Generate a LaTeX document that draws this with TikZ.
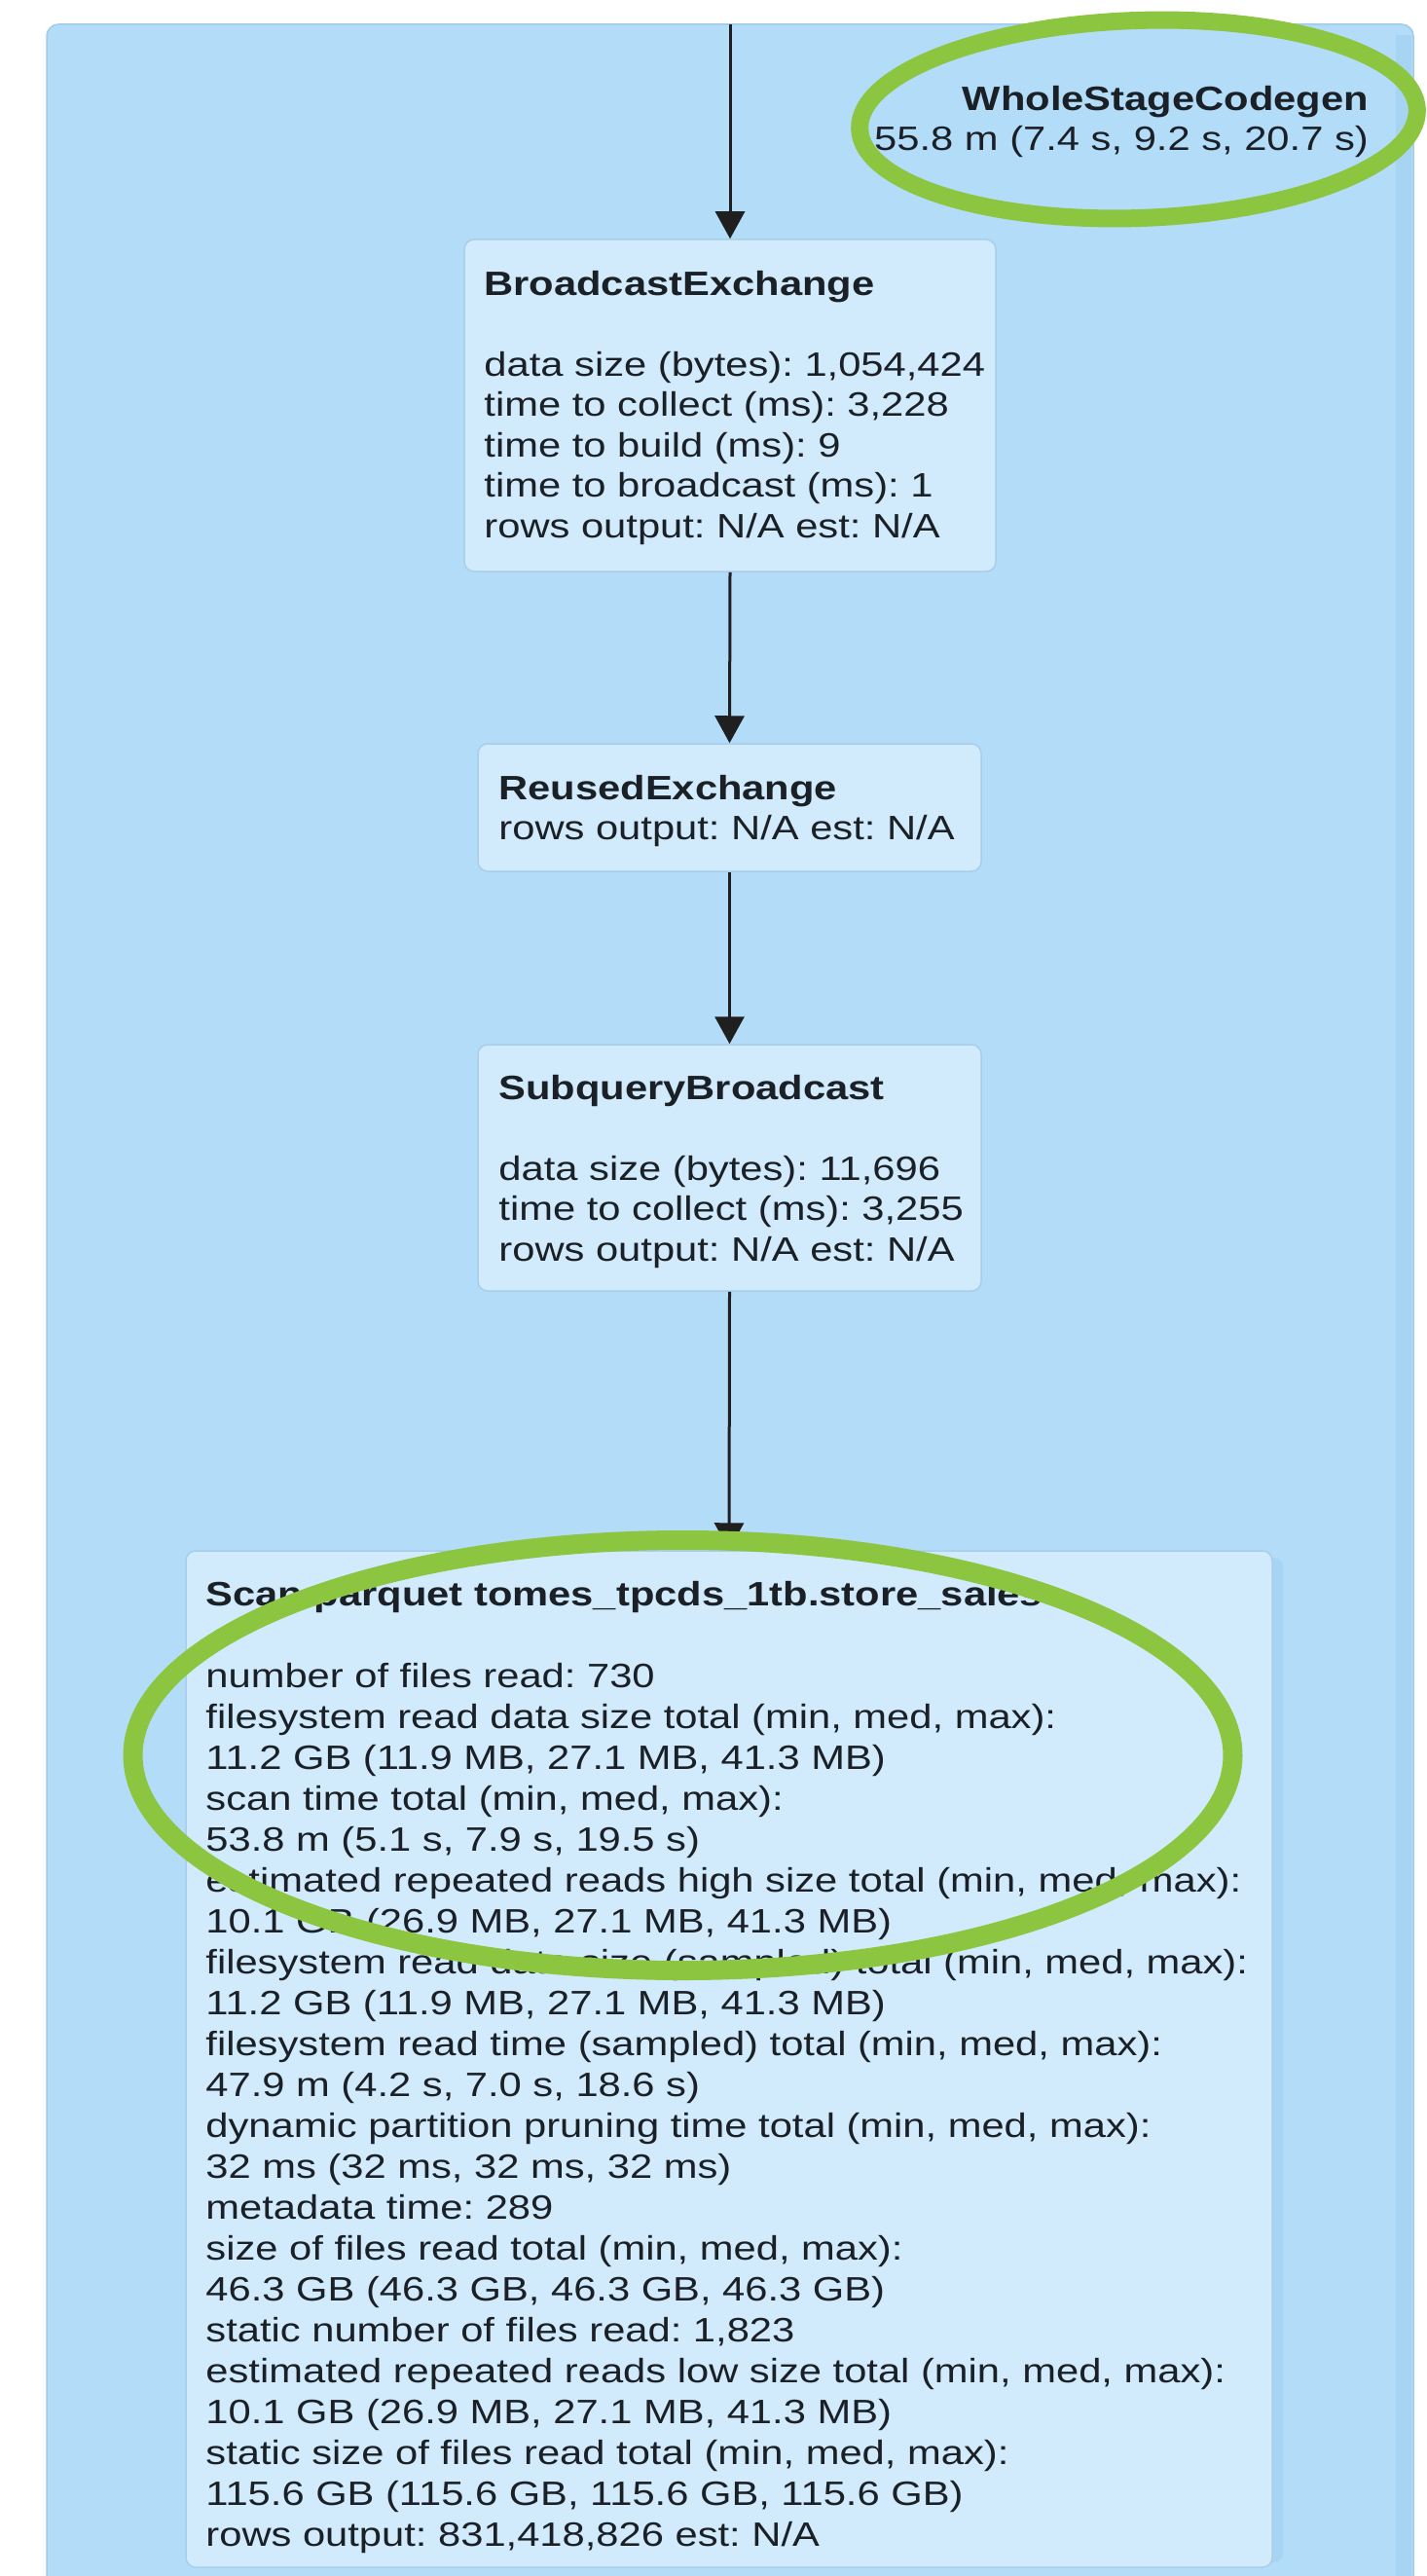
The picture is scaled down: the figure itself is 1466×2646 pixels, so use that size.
\documentclass[tikz,border=0pt]{standalone}
\usepackage{fontspec}
\setmainfont{Liberation Sans}[FakeStretch=1.2]
\frenchspacing
\usetikzlibrary{arrows.meta}

\definecolor{stagebg}{RGB}{179,220,249}
\definecolor{stageedge}{RGB}{160,204,236}
\definecolor{stagedark}{RGB}{168,212,244}
\definecolor{opfill}{RGB}{209,235,252}
\definecolor{opedge}{RGB}{168,206,233}
\definecolor{optext}{RGB}{26,32,38}
\definecolor{hilite}{RGB}{140,197,64}

\begin{document}
\begin{tikzpicture}[x=1pt,y=-1pt,
  opbox/.style={draw=opedge, line width=1.5pt, fill=opfill,
    rounded corners=10pt, inner sep=0pt, minimum width=#1},
  optxt/.style={anchor=base west, inner sep=0pt, text width=#1, align=left,
    text=optext, font=\fontsize{34.75}{41.5}\selectfont},
  flow/.style={draw=black!88, line width=3pt,
    -{Triangle[width=30pt,length=28pt]}},
  ring/.style={draw=hilite, line width=#1}
]
% page and stage cluster
\useasboundingbox (0,0) rectangle (1466,2646);
\fill[white] (0,0) rectangle (1466,2646);
\filldraw[fill=stagebg, draw=stageedge, line width=1.5pt, rounded corners=12pt]
  (48,25) rectangle (1452,2700);
\fill[stagedark] (1434,36) rectangle (1450,2646);

% operator boxes
\node[opbox=546pt, minimum height=341pt] (be) at (750,416.5) {};
\node[opbox=517pt, minimum height=131pt] (re) at (749.5,829.5) {};
\node[opbox=517pt, minimum height=253pt] (sb) at (749.5,1199.5) {};
\fill[stagedark, rounded corners=10pt] (1280,1600) rectangle (1318,2632);
\node[opbox=1116pt, minimum height=1044pt] (scan) at (749,2115) {};

% operator texts
\node[optxt=525pt] (be-t) at ([shift={(21,58)}]be.north west)
  {\textbf{BroadcastExchange}\\[41.5pt]
   data size (bytes): 1,054,424\\
   time to collect (ms): 3,228\\
   time to build (ms): 9\\
   time to broadcast (ms): 1\\
   rows output: N/A est: N/A};
\node[optxt=495pt] (re-t) at ([shift={(22,58)}]re.north west)
  {\textbf{ReusedExchange}\\
   rows output: N/A est: N/A};
\node[optxt=495pt] (sb-t) at ([shift={(22,57)}]sb.north west)
  {\textbf{SubqueryBroadcast}\\[41.5pt]
   data size (bytes): 11,696\\
   time to collect (ms): 3,255\\
   rows output: N/A est: N/A};
\node[optxt=1090pt, font=\fontsize{34.75}{42}\selectfont] (scan-t)
  at ([shift={(21,57)}]scan.north west)
  {\textbf{Scan parquet tomes\_tpcds\_1tb.store\_sales}\\[42pt]
   number of files read: 730\\
   filesystem read data size total (min, med, max):\\
   11.2 GB (11.9 MB, 27.1 MB, 41.3 MB)\\
   scan time total (min, med, max):\\
   53.8 m (5.1 s, 7.9 s, 19.5 s)\\
   estimated repeated reads high size total (min, med, max):\\
   10.1 GB (26.9 MB, 27.1 MB, 41.3 MB)\\
   filesystem read data size (sampled) total (min, med, max):\\
   11.2 GB (11.9 MB, 27.1 MB, 41.3 MB)\\
   filesystem read time (sampled) total (min, med, max):\\
   47.9 m (4.2 s, 7.0 s, 18.6 s)\\
   dynamic partition pruning time total (min, med, max):\\
   32 ms (32 ms, 32 ms, 32 ms)\\
   metadata time: 289\\
   size of files read total (min, med, max):\\
   46.3 GB (46.3 GB, 46.3 GB, 46.3 GB)\\
   static number of files read: 1,823\\
   estimated repeated reads low size total (min, med, max):\\
   10.1 GB (26.9 MB, 27.1 MB, 41.3 MB)\\
   static size of files read total (min, med, max):\\
   115.6 GB (115.6 GB, 115.6 GB, 115.6 GB)\\
   rows output: 831,418,826 est: N/A};

% cluster label
\node[anchor=base east, inner sep=0pt, text width=560pt, align=right,
  text=optext, font=\fontsize{34.75}{40.5}\selectfont] (wsc) at (1406,114)
  {\textbf{WholeStageCodegen}\\
   55.8 m (7.4 s, 9.2 s, 20.7 s)};

% data flow
\coordinate (entry) at (750,25);
\draw[flow] (entry) -- (be.north);
\draw[flow] (be.south) -- (re.north);
\draw[flow] (re.south) -- (sb.north);
\draw[flow] (sb.south) -- (scan.north);

% hand-drawn highlight rings
\draw[ring=18pt, rotate around={2:(1169.5,122.5)}]
  (1169.5,122.5) ellipse [x radius=286.5, y radius=101.5];
\draw[ring=20pt] (701.5,1803) ellipse [x radius=565, y radius=221];
\end{tikzpicture}
\end{document}
